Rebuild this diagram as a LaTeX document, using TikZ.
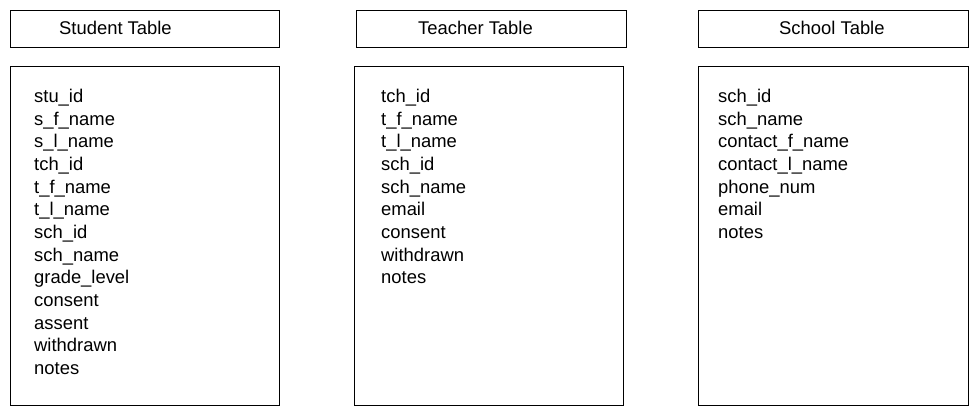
\documentclass[tikz,border=0pt]{standalone}
\usepackage{fontspec}
\setmainfont{Liberation Sans}
\begin{document}
\begin{tikzpicture}[x=1pt,y=-1pt,
  box/.style={draw=black,line width=1pt,inner sep=0pt,outer sep=0pt,anchor=north west},
  lbl/.style={inner sep=0pt,anchor=base west,font=\fontsize{18.4}{22}\selectfont}]
\useasboundingbox[fill=white] (0,0) rectangle (980,413);
% title boxes
\node[box,minimum width=268.5pt,minimum height=36.5pt] (stuT) at (10.5,10.5) {};
\node[box,minimum width=270pt,minimum height=36.5pt] (tchT) at (356,10.5) {};
\node[box,minimum width=270pt,minimum height=36.5pt] (schT) at (698,10.5) {};
% body boxes
\node[box,minimum width=268.5pt,minimum height=339.5pt] (stuB) at (10.5,66) {};
\node[box,minimum width=269pt,minimum height=339.5pt] (tchB) at (354,66) {};
\node[box,minimum width=270pt,minimum height=339.5pt] (schB) at (698,66) {};
% titles
\node[lbl] (stuTl) at (59,34.5) {Student Table};
\node[lbl] (tchTl) at (418,34.5) {Teacher Table};
\node[lbl] (schTl) at (779,34.5) {School Table};
% fields
\foreach \t [count=\i] in {stu\_id,s\_f\_name,s\_l\_name,tch\_id,t\_f\_name,t\_l\_name,sch\_id,sch\_name,grade\_level,consent,assent,withdrawn,notes}
  \node[lbl] (stu\i) at (34,{102.5+(\i-1)*22.67}) {\t};
\foreach \t [count=\i] in {tch\_id,t\_f\_name,t\_l\_name,sch\_id,sch\_name,email,consent,withdrawn,notes}
  \node[lbl] (tch\i) at (381,{102.5+(\i-1)*22.67}) {\t};
\foreach \t [count=\i] in {sch\_id,sch\_name,contact\_f\_name,contact\_l\_name,phone\_num,email,notes}
  \node[lbl] (sch\i) at (718,{102.5+(\i-1)*22.67}) {\t};
\end{tikzpicture}
\end{document}
